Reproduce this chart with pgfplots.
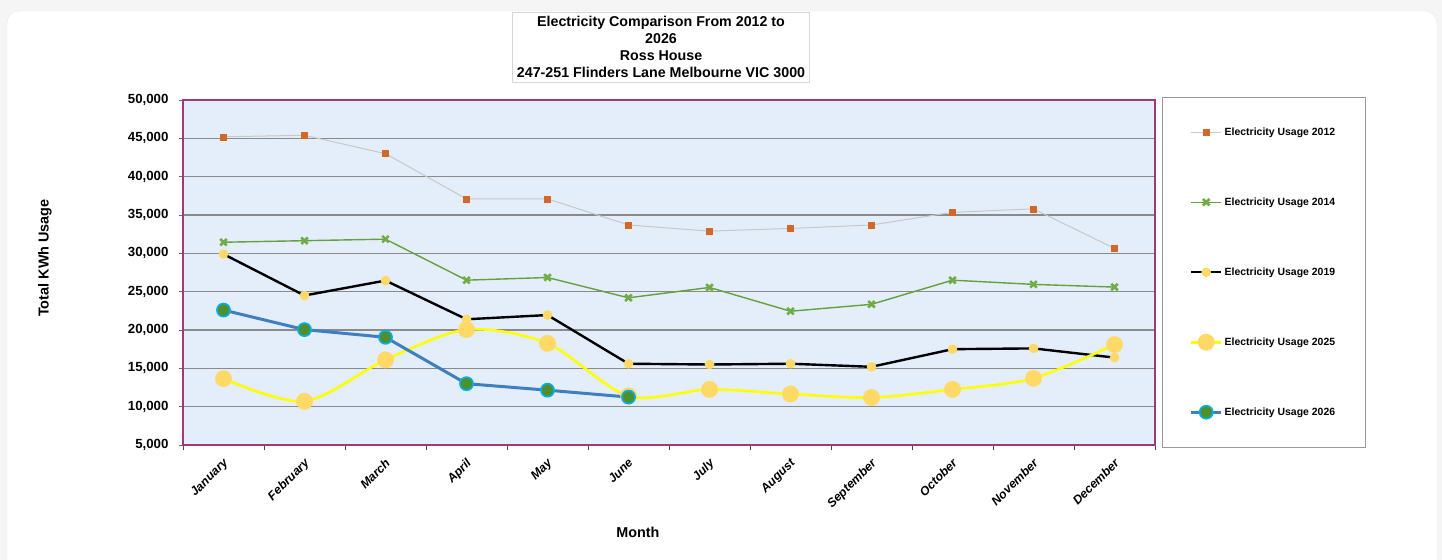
\documentclass[border=0pt]{standalone}
\usepackage{pgfplots}
\pgfplotsset{compat=1.18}
\usepackage{fontspec}
\setmainfont{Liberation Sans}
\setsansfont{Liberation Sans}
\definecolor{outerbg}{HTML}{F5F5F5}
\definecolor{cardline}{HTML}{E8E8E8}
\definecolor{titleline}{HTML}{D7D7D7}
\definecolor{plotbg}{HTML}{E3EEFA}
\definecolor{frame}{HTML}{A03A70}
\definecolor{gridc}{HTML}{8A8A8A}
\definecolor{c12line}{HTML}{C8C8C8}
\definecolor{c12mark}{HTML}{D16828}
\definecolor{c14}{HTML}{65A03E}
\definecolor{c14m}{HTML}{70AD47}
\definecolor{gold}{HTML}{FFD966}
\definecolor{yel}{HTML}{FFFF00}
\definecolor{blu}{HTML}{3E7FC0}
\definecolor{grn}{HTML}{4E8F2E}
\definecolor{cyn}{HTML}{00B0F0}
\begin{document}
\begin{tikzpicture}
\fill[outerbg] (0bp,0bp) rectangle (1442bp,-560bp);
\useasboundingbox (0bp,0bp) rectangle (1442bp,-560bp);
\begin{scope}
\clip (0bp,0bp) rectangle (1442bp,-560bp);
\draw[draw=cardline, fill=white, rounded corners=12bp] (7bp,-11bp) rectangle (1437bp,-620bp);
\end{scope}
\begin{axis}[
  at={(183bp,-445bp)}, anchor=south west,
  width=972bp, height=345bp, scale only axis,
  xmin=-0.5, xmax=11.5, ymin=5000, ymax=50000,
  xtick={0,1,2,3,4,5,6,7,8,9,10,11},
  xticklabels={January,February,March,April,May,June,July,August,September,October,November,December},
  minor xtick={-0.5,0.5,1.5,2.5,3.5,4.5,5.5,6.5,7.5,8.5,9.5,10.5,11.5},
  ytick={5000,10000,15000,20000,25000,30000,35000,40000,45000,50000},
  tick align=outside,
  major tick length=4bp, minor tick length=5bp,
  major x tick style={draw=none},
  minor x tick style={draw=black!70, line width=0.8bp},
  major y tick style={draw=black!60, line width=0.8bp},
  xtick pos=bottom, ytick pos=left,
  ymajorgrids,
  major grid style={draw=gridc, line width=1.3bp},
  axis background/.style={fill=plotbg},
  axis line style={draw=frame, line width=2.5bp},
  /pgf/number format/assume math mode=true,
  /pgf/number format/1000 sep={,},
  scaled y ticks=false,
  yticklabel style={font=\fontsize{13.3}{15}\selectfont\bfseries, xshift=-7bp},
  xticklabel style={font=\fontsize{12.3}{14}\selectfont\bfseries\itshape, xshift=-1bp, yshift=-7bp, rotate=45, anchor=north east, inner sep=1bp},
  xlabel={Month},
  xlabel style={at={(axis description cs:0.468,-0.252)}, anchor=center, font=\fontsize{14.4}{16}\selectfont\bfseries},
  ylabel={Total KWh Usage},
  ylabel style={at={(axis description cs:-0.142,0.542)}, anchor=center, font=\fontsize{14.5}{16}\selectfont\bfseries},
  title={Electricity Comparison From 2012 to\\2026\\Ross House\\247-251 Flinders Lane Melbourne VIC 3000},
  title style={at={(axis description cs:0.4918,1.0346)}, anchor=south, align=center,
    draw=titleline, fill=white, inner xsep=4.5bp, inner ysep=4bp,
    font=\fontsize{14.3}{17}\selectfont\bfseries},
  legend style={at={(1.0072,1.0087)}, anchor=north west, draw=gray!80, fill=white,
    inner xsep=27.5bp, inner ysep=0bp, row sep=0bp,
    nodes={inner sep=2bp, minimum height=70bp},
    font=\fontsize{10.5}{12}\selectfont\bfseries},
  legend cell align=left,
  legend image code/.code={\draw[mark repeat=2,mark phase=2,#1] plot coordinates {(0bp,0bp) (15bp,0bp) (30bp,0bp)};},
]
\addplot[draw=c12line, line width=1bp, mark=square*, mark size=3bp, mark options={draw=c12mark, fill=c12mark, line width=0.5bp}]
coordinates {(0,45200) (1,45400) (2,43000) (3,37100) (4,37100) (5,33700) (6,32900) (7,33250) (8,33700) (9,35350) (10,35800) (11,30650)};
\addlegendentry{Electricity Usage 2012}
\addplot[draw=c14, line width=1.4bp, mark=x, mark size=4.6bp, mark options={draw=c14m, line width=2.6bp}]
coordinates {(0,31450) (1,31650) (2,31850) (3,26500) (4,26850) (5,24200) (6,25550) (7,22450) (8,23350) (9,26500) (10,25950) (11,25600)};
\addlegendentry{Electricity Usage 2014}
\addplot[draw=black, line width=2.4bp, mark=*, mark size=4.7bp, mark options={draw=gold, fill=gold, line width=0.1bp}]
coordinates {(0,29900) (1,24500) (2,26450) (3,21400) (4,21950) (5,15600) (6,15500) (7,15600) (8,15200) (9,17500) (10,17600) (11,16400)};
\addlegendentry{Electricity Usage 2019}
\addplot[draw=yel, line width=2.6bp, smooth, tension=0.5, mark=*, mark size=8.3bp, mark options={draw=gold, fill=gold, line width=0.1bp}]
coordinates {(0,13650) (1,10700) (2,16100) (3,20050) (4,18250) (5,11400) (6,12250) (7,11650) (8,11200) (9,12250) (10,13700) (11,18100)};
\addlegendentry{Electricity Usage 2025}
\addplot[draw=blu, line width=3bp, mark=*, mark size=6.6bp, mark options={draw=cyn, fill=grn, line width=1.6bp}]
coordinates {(0,22600) (1,20050) (2,19050) (3,13000) (4,12150) (5,11250)};
\addlegendentry{Electricity Usage 2026}
\end{axis}
\end{tikzpicture}
\end{document}
